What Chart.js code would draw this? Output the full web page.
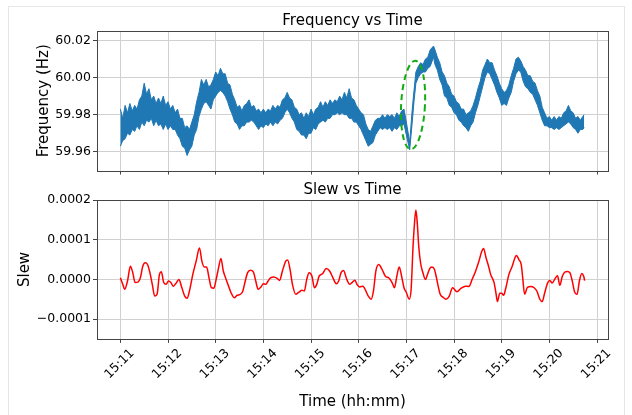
<!DOCTYPE html>
<html lang="en">

<head>
  <meta charset="UTF-8" />
  <title>Frequency and Slew vs Time</title>
  <script src="https://cdn.jsdelivr.net/npm/chart.js"></script>
  <style>
    body { margin: 0; background: #fff; font-family: "DejaVu Sans", sans-serif; }
    .frame { position: absolute; left: 8px; top: 6px; width: 615px; height: 430px; border: 1px solid #e6e6e6; }
    .panel { position: absolute; left: 0; }
    #freqBox { top: 0; }
    #slewBox { top: 180px; }
  </style>
</head>

<body>
  <div class="frame"></div>
  <div class="panel" id="freqBox"><canvas id="freqChart" width="632" height="180"></canvas></div>
  <div class="panel" id="slewBox"><canvas id="slewChart" width="632" height="235"></canvas></div>

  <script>
    // minutes after 15:00
    const tickMinutes = [11, 12, 13, 14, 15, 16, 17, 18, 19, 20, 21];
    const tickLabels = ["15:11", "15:12", "15:13", "15:14", "15:15", "15:16", "15:17", "15:18", "15:19", "15:20", "15:21"];
    const freqTicks = [59.96, 59.98, 60.00, 60.02];
    const slewTicks = [-0.0001, 0, 0.0001, 0.0002];

    // frequency noise band (upper / lower envelope of the raw trace)
    const freqTime = [
      11.00, 11.05, 11.10, 11.15, 11.20, 11.25, 11.30, 11.35, 11.40, 11.45, 11.50, 11.55, 11.60, 11.65, 11.70, 11.75, 11.80, 11.85, 11.90, 11.95,
      12.00, 12.05, 12.10, 12.15, 12.20, 12.25, 12.30, 12.35, 12.40, 12.45, 12.50, 12.55, 12.60, 12.65, 12.70, 12.75, 12.80, 12.85, 12.90, 12.95,
      13.00, 13.05, 13.10, 13.15, 13.20, 13.25, 13.30, 13.35, 13.40, 13.45, 13.50, 13.55, 13.60, 13.65, 13.70, 13.75, 13.80, 13.85, 13.90, 13.95,
      14.00, 14.05, 14.10, 14.15, 14.20, 14.25, 14.30, 14.35, 14.40, 14.45, 14.50, 14.55, 14.60, 14.65, 14.70, 14.75, 14.80, 14.85, 14.90, 14.95,
      15.00, 15.05, 15.10, 15.15, 15.20, 15.25, 15.30, 15.35, 15.40, 15.45, 15.50, 15.55, 15.60, 15.65, 15.70, 15.75, 15.80, 15.85, 15.90, 15.95,
      16.00, 16.05, 16.10, 16.15, 16.20, 16.25, 16.30, 16.35, 16.40, 16.45, 16.50, 16.55, 16.60, 16.65, 16.70, 16.75, 16.80, 16.85, 16.90, 16.95,
      17.00,
      17.07, 17.12, 17.16, 17.20, 17.25, 17.30, 17.35, 17.40, 17.45, 17.50, 17.57,
      17.60, 17.65, 17.70, 17.75, 17.80, 17.85, 17.90, 17.95,
      18.00, 18.05, 18.10, 18.15, 18.20, 18.25, 18.30, 18.35, 18.40, 18.45, 18.50, 18.55, 18.60, 18.65, 18.70, 18.75, 18.80, 18.85, 18.90, 18.95,
      19.00, 19.05, 19.10, 19.15, 19.20, 19.25, 19.30, 19.35, 19.40, 19.45, 19.50, 19.55, 19.60, 19.65, 19.70, 19.75, 19.80, 19.85, 19.90, 19.95,
      20.00, 20.05, 20.10, 20.15, 20.20, 20.25, 20.30, 20.35, 20.40, 20.45, 20.50, 20.55, 20.60, 20.65, 20.70, 20.73
    ];
    const freqHigh = [
      59.983, 59.978, 59.985, 59.981, 59.986, 59.982, 59.985, 59.983, 59.988, 59.990, 59.997, 59.991, 59.994, 59.988, 59.990, 59.986, 59.989, 59.986, 59.990, 59.985,
      59.987, 59.983, 59.985, 59.981, 59.983, 59.978, 59.978, 59.973, 59.974, 59.972, 59.976, 59.980, 59.987, 59.992, 59.999, 59.996, 59.999, 59.995, 59.996, 59.999,
      60.003, 60.001, 60.005, 60.002, 60.002, 59.997, 59.996, 59.991, 59.988, 59.984, 59.985, 59.982, 59.985, 59.986, 59.988, 59.984, 59.985, 59.982, 59.983, 59.981,
      59.983, 59.981, 59.983, 59.982, 59.985, 59.983, 59.985, 59.984, 59.988, 59.989, 59.992, 59.989, 59.988, 59.984, 59.983, 59.980, 59.981, 59.978, 59.981, 59.979,
      59.983, 59.980, 59.983, 59.984, 59.987, 59.984, 59.987, 59.985, 59.988, 59.986, 59.988, 59.987, 59.990, 59.988, 59.992, 59.989, 59.994, 59.989, 59.988, 59.985,
      59.983, 59.981, 59.980, 59.975, 59.972, 59.971, 59.974, 59.977, 59.978, 59.978, 59.980, 59.978, 59.980, 59.979, 59.980, 59.978, 59.981, 59.979, 59.982, 59.983,
      59.976,
      59.965, 59.982, 59.993, 60.003, 60.006, 60.008, 60.007, 60.010, 60.011, 60.015, 60.017,
      60.015, 60.011, 60.008, 60.003, 60.001, 59.997, 59.995, 59.991,
      59.990, 59.987, 59.986, 59.983, 59.983, 59.980, 59.981, 59.982, 59.985, 59.989, 59.994, 59.998, 60.004, 60.007, 60.010, 60.008, 60.008, 60.004, 60.001, 59.997,
      59.994, 59.992, 59.993, 59.996, 60.001, 60.005, 60.010, 60.011, 60.009, 60.006, 60.004, 60.001, 60.001, 59.998, 59.997, 59.993, 59.990, 59.984, 59.981, 59.978,
      59.979, 59.977, 59.979, 59.977, 59.979, 59.978, 59.981, 59.982, 59.985, 59.982, 59.981, 59.978, 59.979, 59.977, 59.979, 59.980
    ];
    const freqLow = [
      59.963, 59.966, 59.967, 59.970, 59.969, 59.972, 59.971, 59.974, 59.972, 59.976, 59.974, 59.977, 59.976, 59.978, 59.974, 59.977, 59.974, 59.975, 59.972, 59.975,
      59.972, 59.974, 59.972, 59.972, 59.969, 59.967, 59.963, 59.962, 59.958, 59.961, 59.963, 59.969, 59.972, 59.979, 59.983, 59.986, 59.987, 59.985, 59.983, 59.988,
      59.990, 59.992, 59.993, 59.992, 59.990, 59.987, 59.983, 59.980, 59.976, 59.975, 59.972, 59.974, 59.974, 59.976, 59.976, 59.977, 59.976, 59.974, 59.972, 59.974,
      59.973, 59.975, 59.974, 59.976, 59.974, 59.976, 59.975, 59.977, 59.978, 59.981, 59.983, 59.981, 59.978, 59.976, 59.972, 59.971, 59.969, 59.969, 59.967, 59.970,
      59.970, 59.973, 59.972, 59.975, 59.976, 59.977, 59.976, 59.978, 59.978, 59.980, 59.980, 59.981, 59.980, 59.981, 59.980, 59.980, 59.978, 59.978, 59.976, 59.976,
      59.974, 59.972, 59.969, 59.966, 59.963, 59.964, 59.965, 59.969, 59.971, 59.973, 59.972, 59.973, 59.972, 59.973, 59.971, 59.973, 59.972, 59.974, 59.974, 59.975,
      59.969,
      59.961, 59.975, 59.987, 59.997, 60.000, 60.002, 60.003, 60.003, 60.005, 60.006, 60.011,
      60.007, 60.004, 59.999, 59.996, 59.990, 59.989, 59.985, 59.984,
      59.981, 59.980, 59.977, 59.976, 59.974, 59.973, 59.971, 59.974, 59.976, 59.981, 59.985, 59.990, 59.995, 60.000, 60.003, 60.002, 59.999, 59.996, 59.992, 59.989,
      59.985, 59.986, 59.985, 59.989, 59.992, 59.998, 60.002, 60.004, 60.003, 59.998, 59.995, 59.994, 59.992, 59.991, 59.988, 59.985, 59.981, 59.977, 59.974, 59.974,
      59.973, 59.973, 59.972, 59.973, 59.972, 59.973, 59.974, 59.975, 59.976, 59.975, 59.973, 59.972, 59.970, 59.972, 59.972, 59.973
    ];

    // slew, in units of 1e-5
    const slewTime = [
      11.00, 11.05, 11.09, 11.15, 11.21, 11.26, 11.31, 11.37, 11.42, 11.47, 11.52, 11.57, 11.62, 11.67, 11.72, 11.77, 11.82, 11.86, 11.91, 11.96,
      12.01, 12.06, 12.11, 12.16, 12.23, 12.28, 12.35, 12.40, 12.45, 12.52, 12.59, 12.66, 12.71, 12.76, 12.81, 12.86, 12.91, 12.96,
      13.01, 13.06, 13.11, 13.16, 13.22, 13.27, 13.32, 13.39, 13.45, 13.52, 13.57, 13.62, 13.67, 13.73, 13.79, 13.84, 13.89, 13.95,
      14.00, 14.05, 14.10, 14.15, 14.22, 14.29, 14.34, 14.40, 14.47, 14.51, 14.56, 14.61, 14.68, 14.74, 14.81, 14.86, 14.91, 14.96,
      15.02, 15.07, 15.12, 15.17, 15.24, 15.32, 15.39, 15.46, 15.53, 15.58, 15.63, 15.68, 15.75, 15.81, 15.86, 15.92, 15.97,
      16.02, 16.09, 16.15, 16.20, 16.26, 16.31, 16.36, 16.42, 16.49, 16.56, 16.63, 16.70, 16.75, 16.80, 16.85, 16.90, 16.95,
      17.00, 17.06, 17.10, 17.14, 17.17, 17.20, 17.23, 17.26, 17.30, 17.34, 17.40, 17.45, 17.50, 17.54, 17.59, 17.63, 17.66, 17.71, 17.77, 17.83, 17.90, 17.97,
      18.06, 18.15, 18.24, 18.31, 18.38, 18.45, 18.52, 18.58, 18.62, 18.67, 18.72, 18.77, 18.84, 18.88, 18.91, 18.96,
      19.00, 19.04, 19.08, 19.15, 19.22, 19.28, 19.31, 19.36, 19.41, 19.44, 19.48, 19.54, 19.61, 19.68, 19.74, 19.80, 19.85, 19.90, 19.96,
      20.01, 20.06, 20.12, 20.17, 20.22, 20.27, 20.32, 20.38, 20.43, 20.48, 20.53, 20.58, 20.63, 20.68, 20.72, 20.74
    ];
    const slewE5 = [
      0.4, -1.2, -2.5, -0.4, 3.3, 1.7, -0.8, -0.7, 0.4, 3.3, 4.2, 3.75, 1.7, -1.25, -4.2, -3.75, 1.25, 1.9, -0.8, -1.25,
      -0.4, -0.8, -1.7, -1.1, 0, -1.7, -4.2, -4.75, -2.9, 1.25, 4.6, 7.9, 4.6, 3.1, 3.1, 0.4, -2.1, -2.25,
      0, 2.9, 5.25, 2.1, 0, -1.7, -3.3, -4.6, -4.0, -3.75, -2.9, -0.4, 1.7, 2.3, 1.9, -0.4, -2.5, -1.9,
      -1.1, -1.25, -0.4, 0.4, 0.6, 0.25, -0.25, 2.1, 4.6, 4.9, 2.5, -1.25, -3.75, -3.3, -2.75, -2.9, 0, 1.7,
      0.8, -2.1, -1.25, 0.8, 1.4, 2.75, 2.1, 0.4, -1.1, -0.4, 1.7, 2.25, 0, -1.25, -0.8, -0.2, -1.4,
      -1.9, -1.7, -2.9, -4.2, -5.0, -2.9, 2.1, 3.75, 2.5, 0.8, 0.4, -0.8, -2.1, 0.8, 3.1, 0.8, -2.1,
      -3.3, -5.0, -2.5, 8.3, 14.0, 17.5, 14.0, 8.3, 4.0, 2.0, 0.0, 1.5, 2.9, 3.1, 2.5, 0.5, -1.3, -3.75, -4.5, -5.0, -4.2, -2.1,
      -3.1, -2.2, -1.7, -1.8, 0.0, 2.0, 4.5, 7.0, 7.8, 5.5, 3.5, 1.2, -0.8, -3.5, -5.6, -3.5,
      -3.5, -4.0, -2.5, 1.2, 3.3, 5.5, 6.0, 5.0, 3.7, 0.5, -3.7, -2.0, -1.8, -2.1, -3.0, -5.0, -5.6, -3.5, -1.0,
      -0.3, -0.9, 0.2, 0.9, -1.5, 0.7, 1.8, 2.0, 1.7, -0.4, -3.2, -3.8, -0.4, 1.5, 0.8, -0.3
    ];

    // dashed ellipse marking the jump near 15:17
    const eventEllipse = { t: 17.14, f: 59.9852, halfWidth: 0.25, halfHeight: 0.0239, tiltDeg: 3 };

    Chart.defaults.font.family = "'DejaVu Sans', sans-serif";
    Chart.defaults.color = "#000";

    const GRID = "#d0d0d0";
    const FRAME = "#444";

    // full box around the plot area (matplotlib style)
    const framePlugin = {
      id: "frame",
      afterDatasetsDraw(chart) {
        const a = chart.chartArea, ctx = chart.ctx;
        ctx.save();
        ctx.strokeStyle = FRAME;
        ctx.lineWidth = 1;
        ctx.strokeRect(Math.round(a.left) + 0.5, Math.round(a.top) + 0.5,
          Math.round(a.right - a.left), Math.round(a.bottom - a.top));
        ctx.restore();
      }
    };

    const ellipsePlugin = {
      id: "ellipse",
      afterDatasetsDraw(chart) {
        const x = chart.scales.x, y = chart.scales.y, ctx = chart.ctx;
        const cx = x.getPixelForValue(eventEllipse.t);
        const cy = y.getPixelForValue(eventEllipse.f);
        const rx = Math.abs(x.getPixelForValue(eventEllipse.t + eventEllipse.halfWidth) - cx);
        const ry = Math.abs(y.getPixelForValue(eventEllipse.f + eventEllipse.halfHeight) - cy);
        ctx.save();
        ctx.strokeStyle = "#12ab12";
        ctx.lineWidth = 2;
        ctx.setLineDash([6, 4]);
        ctx.beginPath();
        ctx.ellipse(cx, cy, rx, ry, eventEllipse.tiltDeg * Math.PI / 180, 0, Math.PI * 2);
        ctx.stroke();
        ctx.restore();
      }
    };

    function minuteAxis(showLabels) {
      return {
        type: "linear",
        min: 10.51,
        max: 21.23,
        afterBuildTicks: (s) => { s.ticks = tickMinutes.map((v) => ({ value: v })); },
        border: { display: false },
        grid: { color: GRID, tickColor: FRAME, tickLength: 4 },
        ticks: {
          display: showLabels,
          autoSkip: false,
          minRotation: 45,
          maxRotation: 45,
          labelOffset: 12,
          padding: 3,
          font: { size: 12.5 },
          callback: (v, i) => tickLabels[i]
        },
        title: {
          display: showLabels,
          text: "Time (hh:mm)",
          font: { size: 15 },
          padding: { top: 8, bottom: 4 }
        }
      };
    }

    const pts = (xs, ys) => xs.map((t, i) => ({ x: t, y: ys[i] }));

    // Frequency chart
    new Chart(document.getElementById("freqChart"), {
      type: "line",
      data: {
        datasets: [
          {
            data: pts(freqTime, freqHigh),
            borderColor: "#1f77b4",
            borderWidth: 1,
            pointRadius: 0,
            fill: false
          },
          {
            data: pts(freqTime, freqLow),
            borderColor: "#1f77b4",
            backgroundColor: "#1f77b4",
            borderWidth: 1,
            pointRadius: 0,
            fill: "-1"
          }
        ]
      },
      options: {
        responsive: false,
        animation: false,
        layout: { padding: { left: 31, right: 24, top: 12, bottom: 0 } },
        plugins: {
          legend: { display: false },
          tooltip: { enabled: false },
          title: {
            display: true,
            text: "Frequency vs Time",
            fullSize: false,
            font: { size: 15, weight: "normal" },
            padding: { top: 0, bottom: 1 }
          }
        },
        scales: {
          x: minuteAxis(false),
          y: {
            min: 59.9499,
            max: 60.0251,
            afterBuildTicks: (s) => { s.ticks = freqTicks.map((v) => ({ value: v })); },
            afterFit: (s) => { s.width = 66; },
            border: { display: false },
            grid: { color: GRID, tickColor: FRAME, tickLength: 4 },
            ticks: { font: { size: 12.5 }, padding: 2, callback: (v) => v.toFixed(2) },
            title: { display: true, text: "Frequency (Hz)", font: { size: 15 }, padding: { top: 4, bottom: 0 } }
          }
        }
      },
      plugins: [framePlugin, ellipsePlugin]
    });

    // Slew chart
    new Chart(document.getElementById("slewChart"), {
      type: "line",
      data: {
        datasets: [
          {
            data: pts(slewTime, slewE5.map((v) => v * 1e-5)),
            borderColor: "#ff0000",
            borderWidth: 1.5,
            pointRadius: 0,
            cubicInterpolationMode: "monotone",
            fill: false
          }
        ]
      },
      options: {
        responsive: false,
        animation: false,
        layout: { padding: { left: 12, right: 24, top: 0, bottom: 0 } },
        plugins: {
          legend: { display: false },
          tooltip: { enabled: false },
          title: {
            display: true,
            text: "Slew vs Time",
            fullSize: false,
            font: { size: 15, weight: "normal" },
            padding: { top: 1, bottom: 1 }
          }
        },
        scales: {
          x: minuteAxis(true),
          y: {
            min: -0.00015,
            max: 0.0002,
            afterBuildTicks: (s) => { s.ticks = slewTicks.map((v) => ({ value: v })); },
            afterFit: (s) => { s.width = 85; },
            border: { display: false },
            grid: { color: GRID, tickColor: FRAME, tickLength: 4 },
            ticks: {
              font: { size: 12.5 },
              padding: 2,
              callback: (v) => (v < 0 ? "\u2212" : "") + Math.abs(v).toFixed(4)
            },
            title: { display: true, text: "Slew", font: { size: 15 }, padding: { top: 4, bottom: 0 } }
          }
        }
      },
      plugins: [framePlugin]
    });
  </script>
</body>

</html>
